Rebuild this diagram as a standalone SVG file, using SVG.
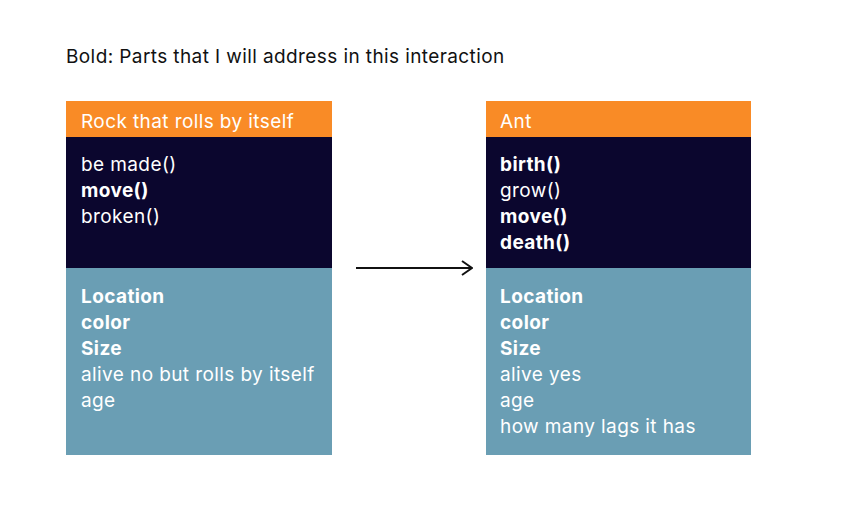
<svg xmlns="http://www.w3.org/2000/svg" width="854" height="515" viewBox="0 0 854 515">
<defs>
<style>
text{font-family:Inter,"Noto Sans","Liberation Sans",sans-serif;font-size:19px;letter-spacing:0.4px;fill:#fff}
.title{fill:#111}
.b{font-weight:700}
.hdr{fill:#F98B26}
.ops{fill:#0B062E}
.att{fill:#6A9EB4}
</style>
<marker id="ah" viewBox="0 0 12 16" markerWidth="12" markerHeight="16" refX="11" refY="8" orient="auto" markerUnits="userSpaceOnUse">
<path d="M1,1 L11,8 L1,15" fill="none" stroke="#111" stroke-width="2"/>
</marker>
</defs>
<rect width="854" height="515" fill="#fff"/>
<text class="title" x="66" y="63">Bold: Parts that I will address in this interaction</text>
<g id="rock">
<rect class="hdr" x="66" y="101" width="266" height="36"/>
<rect class="ops" x="66" y="137" width="266" height="131"/>
<rect class="att" x="66" y="268" width="266" height="187"/>
<text x="81" y="128">Rock that rolls by itself</text>
<text x="81" y="171">be made()</text>
<text x="81" y="197" class="b">move()</text>
<text x="81" y="223">broken()</text>
<text x="81" y="303" class="b">Location</text>
<text x="81" y="329" class="b">color</text>
<text x="81" y="355" class="b">Size</text>
<text x="81" y="381">alive no but rolls by itself</text>
<text x="81" y="407">age</text>
</g>
<g id="ant">
<rect class="hdr" x="486" y="101" width="265" height="36"/>
<rect class="ops" x="486" y="137" width="265" height="131"/>
<rect class="att" x="486" y="268" width="265" height="187"/>
<text x="500" y="128">Ant</text>
<text x="500" y="171" class="b">birth()</text>
<text x="500" y="197">grow()</text>
<text x="500" y="223" class="b">move()</text>
<text x="500" y="249" class="b">death()</text>
<text x="500" y="303" class="b">Location</text>
<text x="500" y="329" class="b">color</text>
<text x="500" y="355" class="b">Size</text>
<text x="500" y="381">alive yes</text>
<text x="500" y="407">age</text>
<text x="500" y="433">how many lags it has</text>
</g>
<g id="connectors">
<line x1="356" y1="268" x2="472" y2="268" stroke="#111" stroke-width="2" marker-end="url(#ah)"/>
</g>
</svg>
